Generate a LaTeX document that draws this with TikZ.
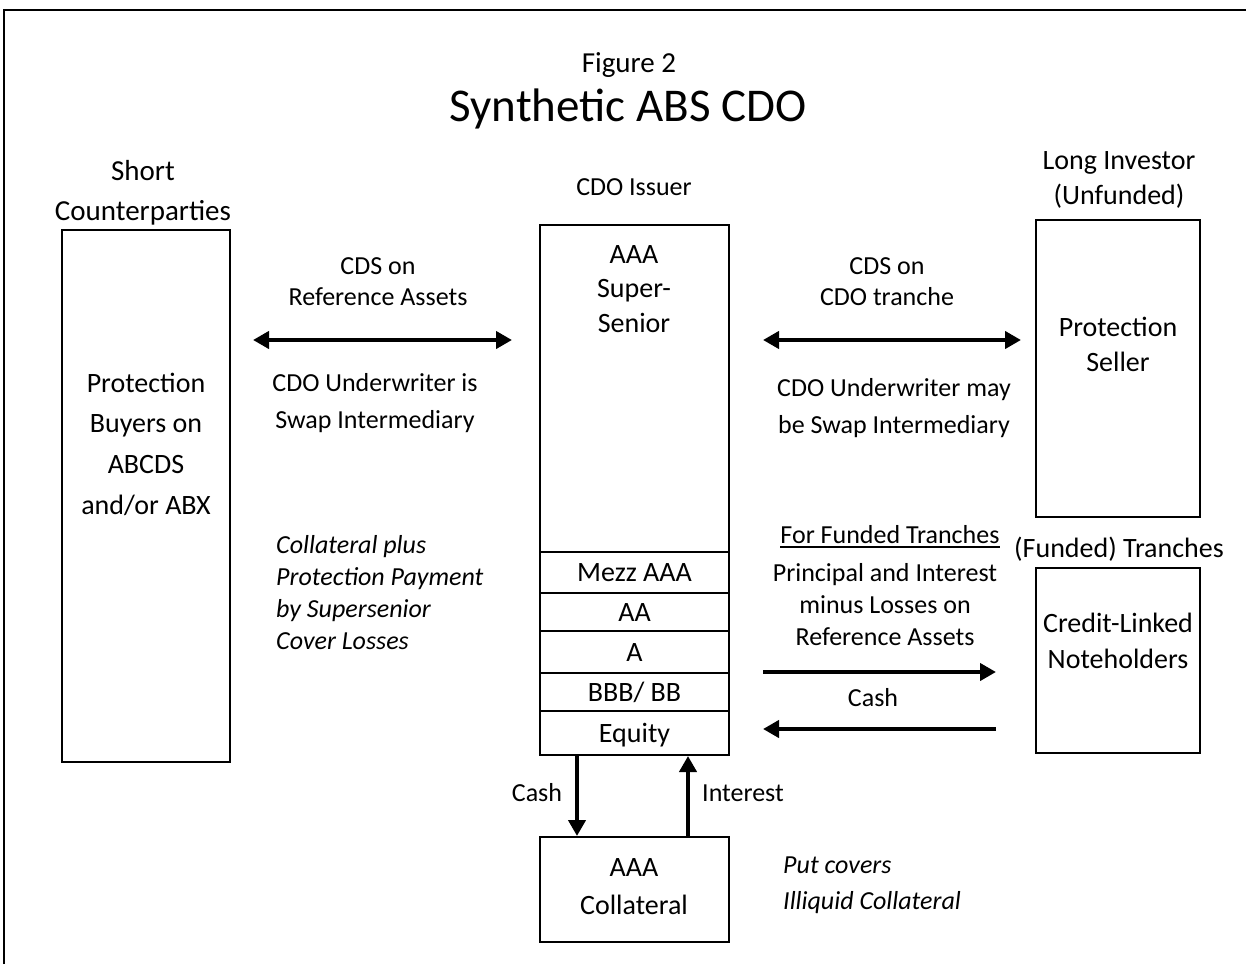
\documentclass[tikz,border=0pt]{standalone}
\usepackage{fontspec}
\setmainfont{Carlito}
\usetikzlibrary{arrows.meta,calc}
\newcommand{\sx}{\rule[-0.25em]{0pt}{1.15em}}
\tikzset{
  box/.style={draw, line width=2pt, rectangle, inner sep=0pt},
  txt/.style={inner sep=0pt, align=center},
  ltxt/.style={inner sep=0pt, align=left, anchor=west},
  fs/.style 2 args={font=\fontsize{#1}{#2}\selectfont},
  its/.style 2 args={font=\fontsize{#1}{#2}\selectfont\itshape},
  tip/.tip={Triangle[length=16pt,width=17pt]},
  arr/.style={line width=4pt, -tip},
  dbl/.style={line width=4pt, tip-tip},
}
\begin{document}
\begin{tikzpicture}[x=1pt,y=-1pt]
\useasboundingbox (0,0) rectangle (1246,964);
% outer frame
\draw[line width=2pt] (4,964) -- (4,10) -- (1246,10);

% titles
\node[txt, fs={29}{34}] (fig) at (629,63) {\sx Figure 2};
\node[txt, fs={47}{56}] (title) at (628,106) {\sx Synthetic ABS CDO};

% left column
\node[txt, fs={29}{40}] (shortlbl) at (143,191) {\sx Short\\\sx Counterparties};
\node[box, minimum width=168pt, minimum height=532pt] (buyers) at (146,496) {};
\node[txt, fs={28}{40.7}] (buyerstxt) at (146,444) {\sx Protection\\\sx Buyers on\\\sx ABCDS\\\sx and/or ABX};

% left arrow and labels
\coordinate (cdsL) at (253,340);
\coordinate (cdsR) at (512,340);
\draw[dbl] (cdsL) -- (cdsR);
\node[txt, fs={26}{31}] (cds1) at (378,281.5) {\sx CDS on\\\sx Reference Assets};
\node[txt, fs={26}{37}] (uw1) at (375,401.5) {\sx CDO Underwriter is\\\sx Swap Intermediary};
\node[ltxt, its={26}{32}] (coll1) at (276,593) {\sx Collateral plus\\\sx Protection Payment\\\sx by Supersenior\\\sx Cover Losses};

% CDO issuer
\node[txt, fs={26}{30}] (issuerlbl) at (634,187) {\sx CDO Issuer};
\node[box, minimum width=189pt, minimum height=327pt] (senior) at (634.5,388.5) {};
\node[txt, fs={28}{34.5}] (seniortxt) at (634,288.5) {\sx AAA\\\sx Super-\\\sx Senior};
\node[box, fs={28}{34}, minimum width=189pt, minimum height=41pt] (mezz) at (634.5,572.5) {\sx Mezz AAA};
\node[box, fs={28}{34}, minimum width=189pt, minimum height=38pt] (aa) at (634.5,612) {\sx AA};
\node[box, fs={28}{34}, minimum width=189pt, minimum height=42pt] (a) at (634.5,652) {\sx A};
\node[box, fs={28}{34}, minimum width=189pt, minimum height=38pt] (bbb) at (634.5,692) {\sx BBB/ BB};
\node[box, fs={28}{34}, minimum width=189pt, minimum height=44pt] (equity) at (634.5,733) {\sx Equity};

% right upper
\node[txt, fs={28}{35}] (longlbl) at (1119,177.5) {\sx Long Investor\\\sx (Unfunded)};
\node[box, minimum width=164pt, minimum height=297pt] (seller) at (1118,368.5) {};
\node[txt, fs={28}{35}] (sellertxt) at (1118,344.5) {\sx Protection\\\sx Seller};
\coordinate (cds2L) at (763,340);
\coordinate (cds2R) at (1021,340);
\draw[dbl] (cds2L) -- (cds2R);
\node[txt, fs={26}{31}] (cds2) at (887,281.5) {\sx CDS on\\\sx CDO tranche};
\node[txt, fs={26}{37}] (uw2) at (894,406.5) {\sx CDO Underwriter may\\\sx be Swap Intermediary};

% right lower
\node[txt, fs={26}{30}] (funded) at (890,535) {\sx For Funded Tranches};
\draw[line width=1.6pt] ($(funded.south west)+(0,-3)$) -- ($(funded.south east)+(0,-3)$);
\node[txt, fs={28}{34}] (fundedlbl) at (1119,548) {\sx (Funded) Tranches};
\node[txt, fs={26}{32}] (pi) at (885,605) {\sx Principal and Interest\\\sx minus Losses on\\\sx Reference Assets};
\node[box, minimum width=164pt, minimum height=185pt] (cln) at (1118,660.5) {};
\node[txt, fs={28}{36}] (clntxt) at (1118,641) {\sx Credit-Linked\\\sx Noteholders};
\coordinate (p1) at (763,672);
\coordinate (p2) at (996,672);
\coordinate (c1) at (996,729);
\coordinate (c2) at (763,729);
\draw[arr] (p1) -- (p2);
\draw[arr] (c1) -- (c2);
\node[txt, fs={26}{30}] (cash1) at (873,698) {\sx Cash};

% collateral
\node[box, minimum width=189pt, minimum height=105pt] (coll) at (634.5,889.5) {};
\node[txt, fs={28}{38}] (colltxt) at (634,886) {\sx AAA\\\sx Collateral};
\draw[arr] ($(equity.south west)+(38,0)$) -- ($(coll.north west)+(38,0)$);
\draw[arr] ($(coll.north west)+(149,0)$) -- ($(equity.south west)+(149,0)$);
\node[txt, fs={26}{30}] (cash2) at (537,793) {\sx Cash};
\node[txt, fs={26}{30}] (interest) at (743,793) {\sx Interest};
\node[ltxt, its={26}{36}] (put) at (783,883) {\sx Put covers\\\sx Illiquid Collateral};
\end{tikzpicture}
\end{document}
